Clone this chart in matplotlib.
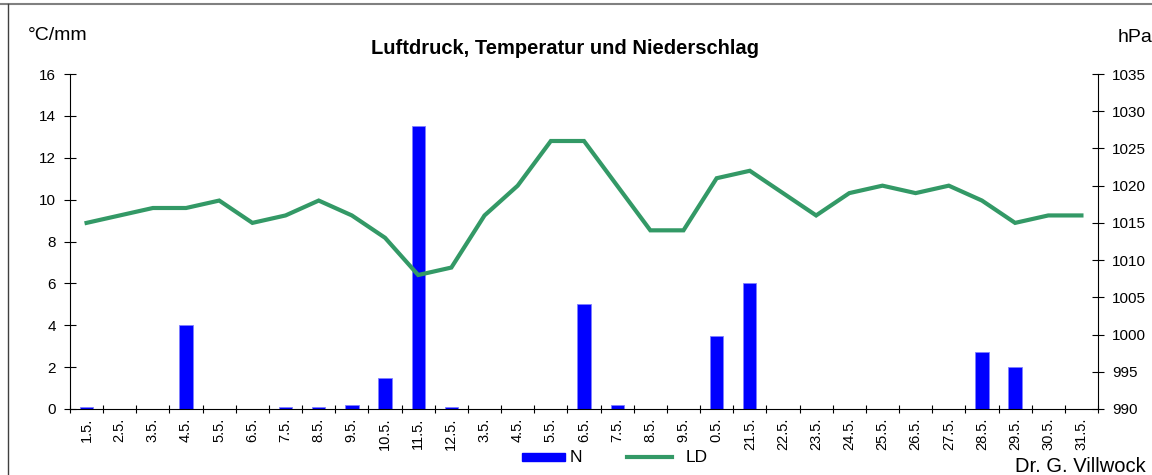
import matplotlib
matplotlib.use("Agg")
import matplotlib.pyplot as plt
from matplotlib.lines import Line2D
from matplotlib.patches import Rectangle
import numpy as np

plt.rcParams['font.family'] = ['Liberation Sans', 'DejaVu Sans']

days = ["1.5.", "2.5.", "3.5.", "4.5.", "5.5.", "6.5.", "7.5.", "8.5.", "9.5.", "10.5.",
        "11.5.", "12.5.", "3.5.", "4.5.", "5.5.", "6.5.", "7.5.", "8.5.", "9.5.", "0.5.",
        "21.5.", "22.5.", "23.5.", "24.5.", "25.5.", "26.5.", "27.5.", "28.5.", "29.5.", "30.5.", "31.5."]
niederschlag = [0.1, 0, 0, 4.0, 0, 0, 0.1, 0.1, 0.2, 1.5,
                13.5, 0.1, 0, 0, 0, 5.0, 0.2, 0, 0, 3.5,
                6.0, 0, 0, 0, 0, 0, 0, 2.7, 2.0, 0, 0]
luftdruck = [1015, 1016, 1017, 1017, 1018, 1015, 1016, 1018, 1016, 1013,
             1008, 1009, 1016, 1020, 1026, 1026, 1020, 1014, 1014, 1021,
             1022, 1019, 1016, 1019, 1020, 1019, 1020, 1018, 1015, 1016, 1016]

W, H = 1152, 475
BLUE = '#0000FF'
GREEN = '#339966'

fig = plt.figure(figsize=(11.52, 4.75), dpi=100)
ax = fig.add_axes([70/W, 1-409/H, (1098-70)/W, (409-74)/H])
x = np.arange(len(days))
ax.bar(x, niederschlag, width=0.4, color=BLUE, edgecolor='#8080ff', linewidth=0.6, zorder=2)
ax.set_xlim(-0.5, len(days)-0.5)
ax.set_ylim(0, 16)
ax.set_yticks(range(0, 17, 2))
# tick marks at category boundaries, labels at category centres
ax.set_xticks(np.arange(len(days) + 1) - 0.5)
ax.set_xticklabels([])
ax.set_xticks(x, minor=True)
ax.set_xticklabels(days, minor=True, rotation=90, fontsize=10.5)
ax.tick_params(axis='x', which='minor', length=0, pad=6)
ax.tick_params(axis='x', which='major', direction='inout', length=6)
ax.tick_params(axis='y', direction='inout', length=8, labelsize=11, pad=6)
ax.spines['top'].set_visible(False)
ax.spines['right'].set_visible(False)

ax2 = ax.twinx()
ax2.plot(x, luftdruck, color=GREEN, linewidth=3, solid_joinstyle='miter', zorder=3)
ax2.set_ylim(990, 1035)
ax2.set_yticks(range(990, 1036, 5))
ax2.tick_params(axis='y', direction='inout', length=8, labelsize=11, pad=6)
ax2.spines['top'].set_visible(False)
ax2.spines['left'].set_visible(False)
ax2.spines['bottom'].set_visible(False)

fig.text(565/W, 1-48/H, "Luftdruck, Temperatur und Niederschlag", ha='center', va='center',
         fontsize=14.5, fontweight='bold')
fig.text(28/W, 1-36/H, "°C/mm", ha='left', va='center', fontsize=14)
fig.text(1118/W, 1-38/H, "hPa", ha='left', va='center', fontsize=14)
fig.text(1146/W, 1-466/H, "Dr. G. Villwock", ha='right', va='center', fontsize=14.5)

# legend (drawn manually to match positions)
fig.add_artist(Rectangle((522/W, 1-461/H), 43/W, 8/H, color=BLUE, transform=fig.transFigure))
fig.text(570/W, 1-457/H, "N", ha='left', va='center', fontsize=12.5)
fig.add_artist(Line2D([627/W, 672/W], [1-457/H, 1-457/H], color=GREEN, linewidth=3,
                      transform=fig.transFigure))
fig.text(686/W, 1-457/H, "LD", ha='left', va='center', fontsize=12.5)

# figure frame lines
fig.add_artist(Line2D([0, 1], [1-4/H, 1-4/H], color='#808080', linewidth=1.5, transform=fig.transFigure))
fig.add_artist(Line2D([8/W, 8/W], [0, 1-4/H], color='#404040', linewidth=1, transform=fig.transFigure))

fig.savefig("out.png", dpi=100)
